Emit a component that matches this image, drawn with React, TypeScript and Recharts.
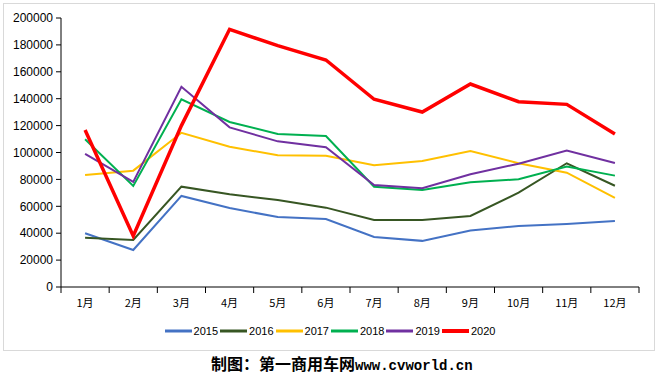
import { Line, LineChart, XAxis, YAxis } from "recharts"

const months = ["1月", "2月", "3月", "4月", "5月", "6月", "7月", "8月", "9月", "10月", "11月", "12月"]

const y2015 = [40000, 27500, 67700, 58700, 52000, 50500, 37200, 34300, 42000, 45300, 46800, 49000]
const y2016 = [36700, 35000, 74600, 68900, 64700, 59000, 49800, 49800, 52800, 70100, 92000, 75300]
const y2017 = [83300, 86500, 114700, 104300, 97900, 97600, 90500, 93700, 101100, 92000, 85000, 66200]
const y2018 = [109800, 75100, 139600, 122700, 113800, 112300, 74600, 72100, 77800, 80100, 89500, 82800]
const y2019 = [98900, 78100, 148900, 118700, 108300, 103900, 75800, 73400, 83800, 91700, 101400, 92200]
const y2020 = [116700, 37900, 120000, 191600, 179400, 168800, 139600, 130100, 150900, 137800, 135800, 113800]

const yTicks = [0, 20000, 40000, 60000, 80000, 100000, 120000, 140000, 160000, 180000, 200000]
const xTicks = [0, 1, 2, 3, 4, 5, 6, 7, 8, 9, 10, 11, 12]

const series = [
  { key: "2015", values: y2015, color: "#4472C4", width: 2 },
  { key: "2016", values: y2016, color: "#375623", width: 2 },
  { key: "2017", values: y2017, color: "#FFC000", width: 2 },
  { key: "2018", values: y2018, color: "#00B050", width: 2 },
  { key: "2019", values: y2019, color: "#7030A0", width: 2 },
  { key: "2020", values: y2020, color: "#FF0000", width: 3.5 },
]

const data = months.map((m, i) => {
  const row: Record<string, number | string> = { x: i + 0.5, month: m }
  series.forEach((s) => {
    row[s.key] = s.values[i]
  })
  return row
})

const W = 660
const H = 376
const margin = { top: 18, right: 21, bottom: 59, left: 0 }
const yAxisWidth = 61
const halfBand = (W - margin.left - margin.right - yAxisWidth) / months.length / 2

function MonthTick(props: any) {
  const { x, y, payload } = props
  const label = months[payload.value]
  if (!label) return null
  return (
    <text
      x={x + halfBand}
      y={y}
      dy={12}
      textAnchor="middle"
      fontSize={11}
      fontFamily="'Noto Sans CJK SC', sans-serif"
      fill="#000"
    >
      {label}
    </text>
  )
}

export default function App() {
  return (
    <div style={{ position: "absolute", left: 0, top: 0, width: W, height: H, background: "#fff" }}>
      <div
        style={{
          position: "absolute",
          left: 3,
          top: 3,
          width: 652,
          height: 348,
          border: "1px solid #d9d9d9",
          boxSizing: "border-box",
        }}
      />
      <div style={{ position: "absolute", left: 0, top: 0 }}>
        <LineChart width={W} height={H} data={data} margin={margin}>
          <XAxis
            dataKey="x"
            type="number"
            domain={[0, 12]}
            ticks={xTicks}
            interval={0}
            height={30}
            tickSize={6}
            tickMargin={2}
            axisLine={{ stroke: "#000" }}
            tickLine={{ stroke: "#000" }}
            tick={<MonthTick />}
          />
          <YAxis
            domain={[0, 200000]}
            ticks={yTicks}
            interval={0}
            width={yAxisWidth}
            tickSize={5}
            tickMargin={3}
            axisLine={{ stroke: "#000" }}
            tickLine={{ stroke: "#000" }}
            tick={{ fontSize: 12, fill: "#000", fontFamily: "'Liberation Sans', Arial, sans-serif" }}
          />
          {series.map((s) => (
            <Line
              key={s.key}
              type="linear"
              dataKey={s.key}
              stroke={s.color}
              strokeWidth={s.width}
              dot={false}
              activeDot={false}
              isAnimationActive={false}
            />
          ))}
        </LineChart>
      </div>
      <div
        style={{
          position: "absolute",
          left: 0,
          top: 323,
          width: W,
          display: "flex",
          justifyContent: "center",
          fontFamily: "'Liberation Sans', Arial, sans-serif",
          fontSize: 11,
          color: "#000",
        }}
      >
        {series.map((s) => (
          <div key={s.key} style={{ display: "flex", alignItems: "center", height: 16 }}>
            <svg width={29} height={16}>
              <line x1={1} y1={8} x2={28} y2={8} stroke={s.color} strokeWidth={s.width === 2 ? 3 : 4} />
            </svg>
            <span style={{ marginLeft: 1, marginRight: 1 }}>{s.key}</span>
          </div>
        ))}
      </div>
      <div
        style={{
          position: "absolute",
          left: 211,
          top: 353,
          fontFamily: "'Noto Sans CJK SC', sans-serif",
          fontWeight: 700,
          fontSize: 16,
          lineHeight: "20px",
          color: "#000",
          whiteSpace: "nowrap",
        }}
      >
        制图：第一商用车网
        <span style={{ fontFamily: "'Liberation Mono', 'DejaVu Sans Mono', monospace", fontSize: 14 }}>
          www.cvworld.cn
        </span>
      </div>
    </div>
  )
}
